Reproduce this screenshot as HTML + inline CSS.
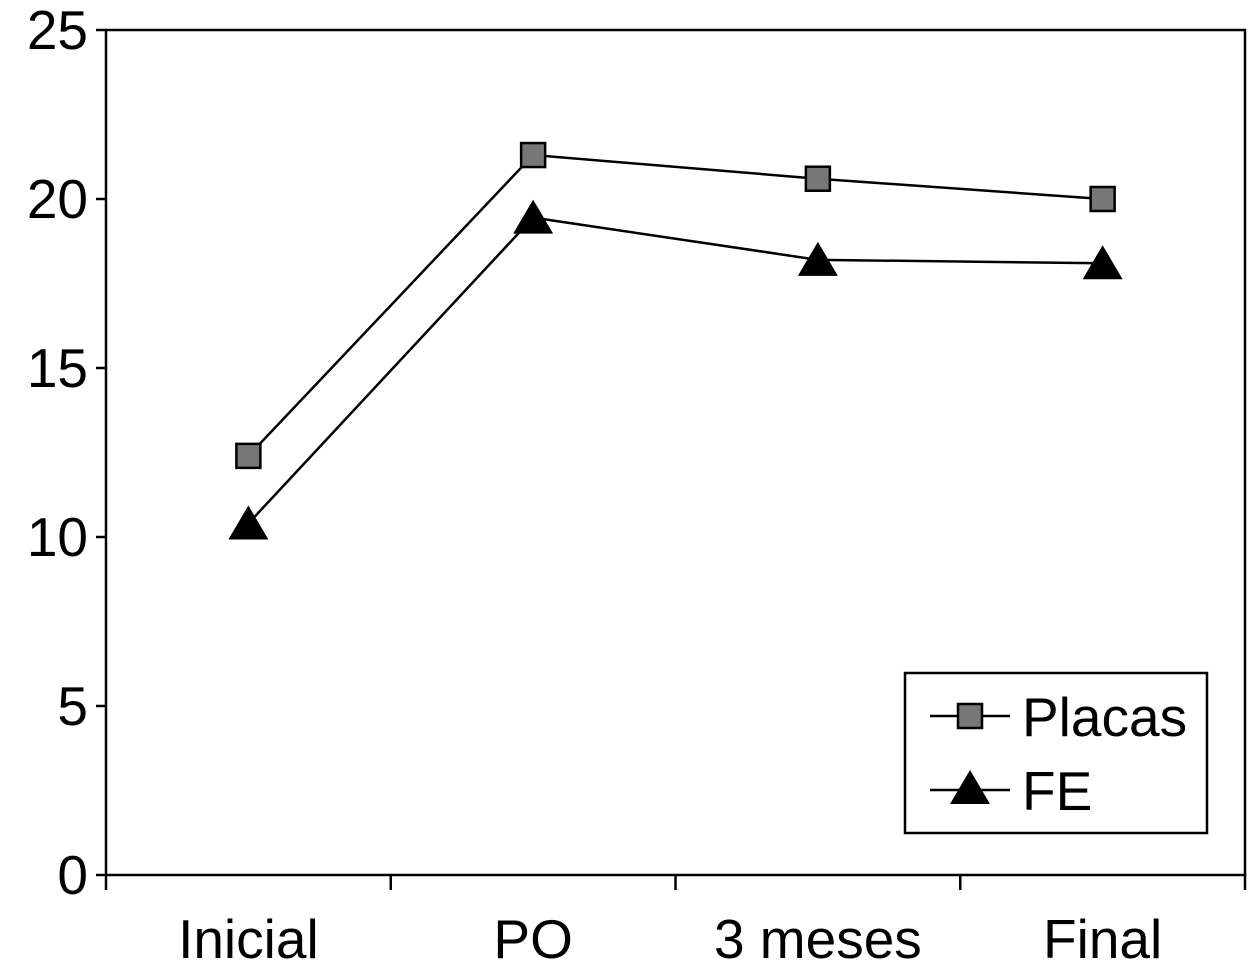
<!DOCTYPE html>
<html><head><meta charset="utf-8"><style>
html,body{margin:0;padding:0;background:#fff;}
svg{display:block;font-family:"Liberation Sans",Arial,sans-serif;}
</style></head><body>
<svg id="chart" width="1250" height="976" xmlns="http://www.w3.org/2000/svg"></svg>
<script>
const categories = ["Inicial","PO","3 meses","Final"];
const placasValues = [12.4, 21.3, 20.6, 20.0];
const feValues = [10.4, 19.45, 18.2, 18.1];
const yTicks = [0,5,10,15,20,25];

const svg = document.getElementById('chart');
const NS = 'http://www.w3.org/2000/svg';
const X0 = 106, X1 = 1245, Y0 = 875, Y1 = 30, YMAX = 25;
const bw = (X1 - X0) / categories.length;
function xScale(i){ return X0 + bw * (i + 0.5); }
function yScale(v){ return Y0 - (v / YMAX) * (Y0 - Y1); }
function mk(tag, attrs, parent){
  const e = document.createElementNS(NS, tag);
  for (const k in attrs) e.setAttribute(k, attrs[k]);
  (parent || svg).appendChild(e);
  return e;
}

let e = mk('rect', {x:X0, y:Y1, width:X1-X0, height:Y0-Y1, fill:'none', stroke:'#000', 'stroke-width':2.5});



yTicks.forEach(t => {
  const y = yScale(t);
  const l = mk('line', {x1:X0-10, x2:X0, y1:y, y2:y, stroke:'#000', 'stroke-width':2.5});
  
  
  const tx = mk('text', {x:88, y:y+19, 'font-size':55, 'text-anchor':'end', fill:'#000'});
  tx.textContent = t;
  
  
});

for (let i = 0; i <= categories.length; i++) {
  const x = X0 + bw * i;
  const l = mk('line', {x1:x, x2:x, y1:Y0, y2:Y0+15, stroke:'#000', 'stroke-width':2.5});
  
  
}
categories.forEach((c, i) => {
  const tx = mk('text', {x:xScale(i), y:958, 'font-size':55, 'text-anchor':'middle', fill:'#000'});
  tx.textContent = c;
  
  
});

function series(vals, name, marker){
  const pts = vals.map((v, i) => xScale(i) + ',' + yScale(v)).join(' ');
  const pl = mk('polyline', {points:pts, fill:'none', stroke:'#000', 'stroke-width':2.5});
  
  
  vals.forEach((v, i) => { marker(xScale(i), yScale(v), name); });
}
function square(x, y, name){
  const r = mk('rect', {x:x-12, y:y-12, width:24, height:24, fill:'#777', stroke:'#000', 'stroke-width':2.5});
  
  
}
function tri(x, y, name){
  const p = mk('polygon', {points:`${x},${y-18} ${x+20},${y+16} ${x-20},${y+16}`, fill:'#000'});
  
  
}
series(placasValues, 'placas', square);
series(feValues, 'fe', tri);

const lg = mk('g', {});


mk('rect', {x:905, y:673, width:302, height:160, fill:'#fff', stroke:'#000', 'stroke-width':2.5}, lg);
mk('line', {x1:930, x2:1010, y1:716, y2:716, stroke:'#000', 'stroke-width':2.5}, lg);
mk('rect', {x:958, y:704, width:24, height:24, fill:'#777', stroke:'#000', 'stroke-width':2.5}, lg);
let t1 = mk('text', {x:1022, y:736, 'font-size':55, fill:'#000'}, lg);
t1.textContent = 'Placas';


mk('line', {x1:930, x2:1010, y1:790, y2:790, stroke:'#000', 'stroke-width':2.5}, lg);
mk('polygon', {points:'970,770 990,804 950,804', fill:'#000'}, lg);
let t2 = mk('text', {x:1022, y:810, 'font-size':55, fill:'#000'}, lg);
t2.textContent = 'FE';


</script>
</body></html>
